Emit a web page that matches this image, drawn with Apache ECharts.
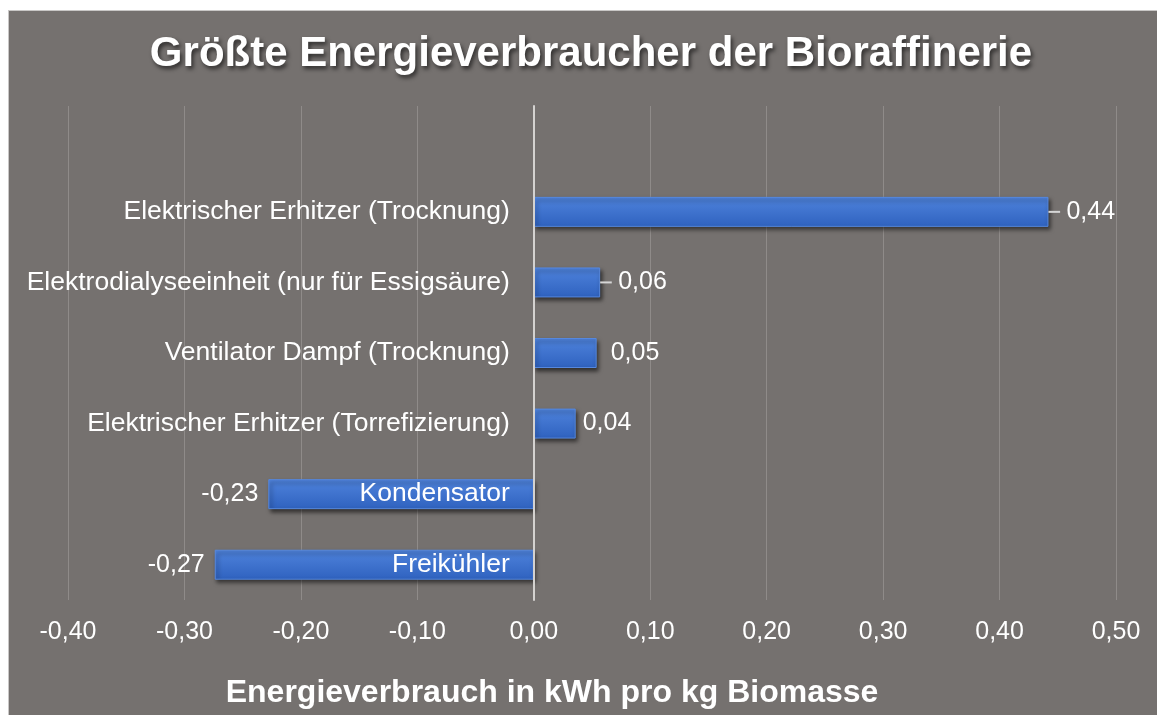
<!DOCTYPE html>
<html>
<head>
<meta charset="utf-8">
<script src="https://cdn.jsdelivr.net/npm/echarts@6/dist/echarts.min.js"></script>
<style>
html,body{margin:0;padding:0;background:#ffffff;width:1157px;height:715px;overflow:hidden;}
#frame{position:absolute;left:8px;top:10px;width:1149px;height:705px;background:#75716f;border-left:1px solid #c9c7c6;border-top:1px solid #c9c7c6;box-sizing:border-box;}
#chart{position:absolute;left:8px;top:10px;width:1149px;height:705px;}
</style>
</head>
<body>
<div id="frame"></div>
<div id="chart"></div>
<script>
const categories = ['', 'Elektrischer Erhitzer (Trocknung)', 'Elektrodialyseeinheit (nur für Essigsäure)', 'Ventilator Dampf (Trocknung)', 'Elektrischer Erhitzer (Torrefizierung)', 'Kondensator', 'Freikühler'];
const values = [null, 0.442, 0.057, 0.054, 0.036, -0.228, -0.274];
const errors = [0, 0.01, 0.01, 0, 0, 0, 0];
const xTicks = [-0.4, -0.3, -0.2, -0.1, 0, 0.1, 0.2, 0.3, 0.4, 0.5];
const labelDistances = [0, 18, 18, 14, 7, 10, 10];

const fmt = v => v.toFixed(2).replace('.', ',');
const FONT = "'Liberation Sans', Arial, sans-serif";

const chart = echarts.init(document.getElementById('chart'), null, {renderer: 'canvas'});

const barData = values.map((v, i) => {
  if (v === null) return '-';
  return {
    value: v,
    label: {
      show: true,
      position: v < 0 ? 'left' : 'right',
      distance: labelDistances[i]
    }
  };
});

const errData = values.map((v, i) => (v === null ? [0, i, 0] : [v, i, errors[i]]));
const catLabelData = categories.map((c, i) => ({value: [0, i], name: c}));

chart.setOption({
  backgroundColor: 'transparent',
  animation: false,
  title: [{
    text: 'Größte Energieverbraucher der Bioraffinerie',
    left: 578, top: 18, textAlign: 'center',
    textStyle: {
      color: '#ffffff', fontSize: 42, fontWeight: 'bold', fontFamily: FONT,
      textShadowColor: 'rgba(0,0,0,0.6)', textShadowBlur: 4, textShadowOffsetX: 2, textShadowOffsetY: 3
    }
  }, {
    text: 'Energieverbrauch in kWh pro kg Biomasse',
    left: 539, top: 662, textAlign: 'center',
    textStyle: {color: '#ffffff', fontSize: 32, fontWeight: 'bold', fontFamily: FONT}
  }],
  grid: {left: 60, right: 41, top: 96, bottom: 115, containLabel: false, outerBoundsMode: 'none'},
  xAxis: {
    type: 'value', min: -0.4, max: 0.5, interval: 0.1,
    axisLine: {show: false}, axisTick: {show: false},
    splitLine: {show: true, lineStyle: {color: '#8f8b89', width: 1}},
    axisLabel: {
      color: '#ffffff', fontSize: 25, fontFamily: FONT, margin: 20,
      formatter: v => fmt(xTicks.reduce((a, b) => Math.abs(b - v) < Math.abs(a - v) ? b : a))
    }
  },
  yAxis: {
    type: 'category', data: categories, inverse: true, z: 10,
    axisLine: {show: true, onZero: true, lineStyle: {color: '#d4d2d0', width: 2}},
    axisTick: {show: false},
    splitLine: {show: false},
    axisLabel: {show: false}
  },
  series: [{
    type: 'bar',
    data: barData,
    barWidth: 30,
    itemStyle: {
      color: new echarts.graphic.LinearGradient(0, 0, 0, 1, [
        {offset: 0, color: '#4f83dc'},
        {offset: 1, color: '#2f62bf'}
      ]),
      borderColor: '#5688de', borderWidth: 1,
      shadowColor: 'rgba(0,0,0,0.55)', shadowBlur: 4, shadowOffsetX: 2, shadowOffsetY: 3
    },
    label: {
      show: true, color: '#ffffff', fontSize: 25, fontFamily: FONT,
      formatter: p => fmt(p.value)
    }
  }, {
    type: 'custom',
    data: errData,
    z: 3,
    renderItem: (params, api) => {
      const err = api.value(2);
      if (!err) return null;
      const v = api.value(0);
      const a = api.coord([v, api.value(1)]);
      const b = api.coord([v + err, api.value(1)]);
      return {type: 'line', shape: {x1: a[0], y1: a[1], x2: b[0], y2: b[1]}, style: {stroke: '#d6d6d6', lineWidth: 2}};
    }
  }, {
    type: 'scatter',
    data: catLabelData,
    symbolSize: 0,
    z: 20,
    silent: true,
    itemStyle: {opacity: 1, color: '#ffffff'},
    emphasis: {disabled: true},
    label: {
      show: true, position: 'left', distance: 24, opacity: 1,
      color: '#ffffff', fontSize: 26.5, fontFamily: FONT,
      formatter: p => p.name
    }
  }]
});
</script>
</body>
</html>
